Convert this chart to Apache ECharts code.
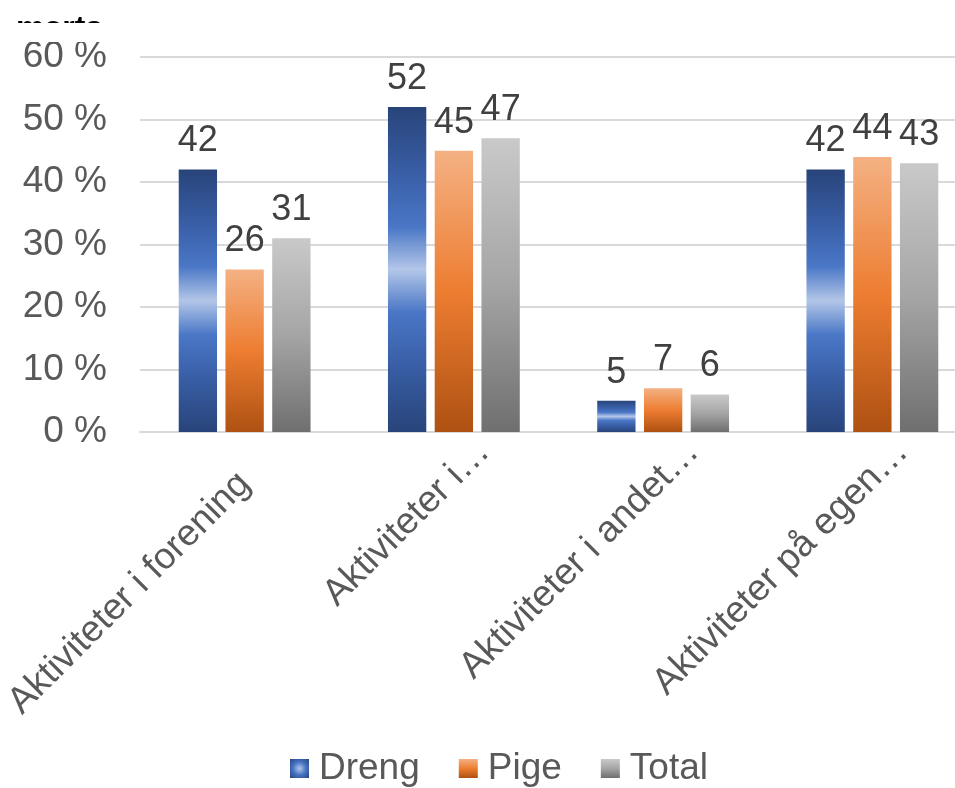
<!DOCTYPE html>
<html>
<head>
<meta charset="utf-8">
<script src="https://cdn.jsdelivr.net/npm/echarts@6/dist/echarts.min.js"></script>
<style>
  html, body { margin: 0; padding: 0; background: #fff; }
  #chart { width: 955px; height: 788px; }
</style>
</head>
<body>
<div id="chart"></div>
<script>
// Activity categories (labels as shown on the axis)
const categories = [
  'Aktiviteter i forening',
  'Aktiviteter i…',
  'Aktiviteter i andet…',
  'Aktiviteter på egen…'
];
// Share in percent per group
const dreng = [42, 52, 5, 42];
const pige  = [26, 45, 7, 44];
const total = [31, 47, 6, 43];
// Y axis ticks
const yMin = 0, yMax = 60, yStep = 10;

const FONT = "'Liberation Sans', Arial, sans-serif";
const grad = (stops) => new echarts.graphic.LinearGradient(0, 0, 0, 1,
  stops.map(([o, c]) => ({ offset: o, color: c })));

const blueFill = grad([[0, '#28447a'], [0.22, '#3a60a9'], [0.37, '#4a77c6'],
  [0.5, '#b3c6e8'], [0.63, '#4a77c6'], [0.78, '#3a60a9'], [1, '#28447a']]);
const blueIcon = new echarts.graphic.RadialGradient(0.5, 0.5, 0.7, [
  { offset: 0, color: '#b3c6e8' }, { offset: 0.5, color: '#4472c4' }, { offset: 1, color: '#2a4679' }]);
const orangeFill = grad([[0, '#f4b183'], [0.5, '#ed7d31'], [1, '#ae5112']]);
const grayFill = grad([[0, '#c9c9c9'], [0.5, '#a5a5a5'], [1, '#6f6f6f']]);

const label = {
  show: true, position: 'top', distance: 10,
  color: '#404040', fontSize: 36, fontFamily: FONT, formatter: '{c}'
};

const mkSeries = (name, data, color) => ({
  name, type: 'bar', data, barGap: '22%', barCategoryGap: '37%',
  itemStyle: { color }, label, emphasis: { disabled: true }
});

// Category label styles: shortened names sit further along the slant
const catText = { fontSize: 37, color: '#595959', fontFamily: FONT };
const catRich = {
  full: Object.assign({ padding: [88, 44, 0, 0] }, catText),
  cut:  Object.assign({ padding: [85, 0, 0, 0] }, catText)
};

const chart = echarts.init(document.getElementById('chart'), null, { renderer: 'canvas' });
chart.setOption({
  animation: false,
  backgroundColor: '#fff',
  textStyle: { fontFamily: FONT },
  // plot area runs past the right edge of the canvas
  grid: { left: 140, width: 837, top: 57, bottom: 356, containLabel: false, outerBoundsMode: 'none' },
  legend: {
    top: 750, left: 290, padding: 0, itemWidth: 19, itemHeight: 19, itemGap: 39,
    icon: 'rect',
    textStyle: { fontSize: 37, color: '#595959', fontFamily: FONT, padding: [0, 0, 0, 5] },
    data: [
      { name: 'Dreng', itemStyle: { color: blueIcon } },
      { name: 'Pige' },
      { name: 'Total' }
    ]
  },
  xAxis: {
    type: 'category', data: categories,
    axisLine: { lineStyle: { color: '#d9d9d9', width: 2 } },
    axisTick: { show: false },
    axisLabel: {
      rotate: 45, margin: -16, interval: 0,
      fontSize: 37, color: '#595959', fontFamily: FONT,
      formatter: (v) => v.endsWith('…') ? '{cut|' + v + '}' : '{full|' + v + '}',
      rich: catRich
    }
  },
  yAxis: {
    type: 'value', min: yMin, max: yMax, interval: yStep,
    axisLine: { show: false }, axisTick: { show: false },
    splitLine: { lineStyle: { color: '#d9d9d9', width: 2 } },
    axisLabel: { formatter: '{value} %', margin: 33, fontSize: 37, color: '#595959', fontFamily: FONT }
  },
  graphic: [
    { type: 'text', left: 16, top: 13, z: 10,
      style: { text: 'marts', fill: '#000', font: "bold 32px " + FONT } },
    { type: 'rect', left: 0, top: 23, z: 11, shape: { width: 135, height: 19 }, style: { fill: '#fff' } }
  ],
  series: [
    mkSeries('Dreng', dreng, blueFill),
    mkSeries('Pige', pige, orangeFill),
    mkSeries('Total', total, grayFill)
  ]
});
</script>
</body>
</html>
